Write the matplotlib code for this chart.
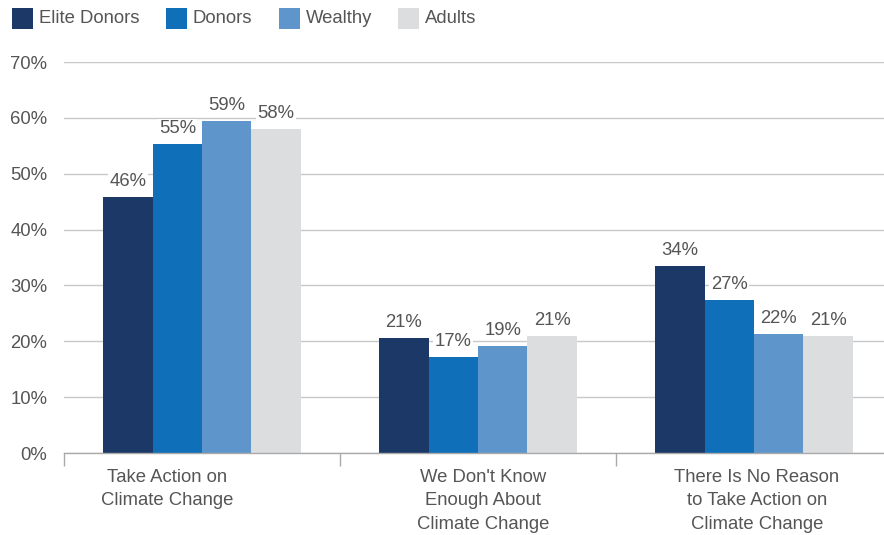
import matplotlib
matplotlib.use("Agg")
import matplotlib.pyplot as plt
from matplotlib.patches import Rectangle
import numpy as np

plt.rcParams['font.family'] = ['Liberation Sans', 'DejaVu Sans']

categories = ["Take Action on\nClimate Change",
              "We Don't Know\nEnough About\nClimate Change",
              "There Is No Reason\nto Take Action on\nClimate Change"]
series = ["Elite Donors", "Donors", "Wealthy", "Adults"]
values = {
    "Elite Donors": [45.8, 20.6, 33.5],
    "Donors":       [55.3, 17.2, 27.4],
    "Wealthy":      [59.4, 19.2, 21.3],
    "Adults":       [58.0, 20.9, 20.9],
}
labels = {
    "Elite Donors": [46, 21, 34],
    "Donors":       [55, 17, 27],
    "Wealthy":      [59, 19, 22],
    "Adults":       [58, 21, 21],
}
colors = ["#1B3866", "#0F6FB8", "#5E95CB", "#DCDDDF"]
yticks = [0, 10, 20, 30, 40, 50, 60, 70]

TXT = "#555555"
FS = 13.3
fig = plt.figure(figsize=(8.84, 5.35), dpi=100)
ax = fig.add_axes([64/884, (535-453)/535, 820/884, (453-62)/535])

x = np.arange(len(categories))
w = 0.179
for i, s in enumerate(series):
    xs = x + (i - 1.5) * w
    bars = ax.bar(xs, values[s], width=w, color=colors[i], zorder=3, linewidth=0)
    for b, lab in zip(bars, labels[s]):
        ax.annotate(f"{lab}%", (b.get_x() + b.get_width()/2, b.get_height()),
                    xytext=(0, 5), textcoords="offset points", ha="center", va="bottom",
                    fontsize=FS, color=TXT, zorder=4,
                    bbox=dict(facecolor="white", edgecolor="none", pad=1.0))

ax.set_xlim(-0.5, -0.5 + 820/276)
ax.set_ylim(0, 70)
ax.set_yticks(yticks)
ax.set_yticklabels([f"{t}%" for t in yticks], fontsize=FS, color=TXT)
ax.tick_params(axis='y', length=0, pad=12)
ax.yaxis.grid(True, color="#C8C8C8", linewidth=1.0, zorder=0)
for sp in ["top", "right", "left"]:
    ax.spines[sp].set_visible(False)
ax.spines["bottom"].set_color("#AAAAAA")
ax.spines["bottom"].set_linewidth(1.0)
ax.spines["bottom"].set_zorder(5)

ax.set_xticks([-0.5, 0.5, 1.5])
ax.set_xticklabels(["", "", ""])
ax.tick_params(axis='x', length=9, color="#AAAAAA", width=1.0, direction='out')

label_pos = [-0.127, 1.018, 2.01]
for lp, c in zip(label_pos, categories):
    ax.text(lp, -0.04, c, transform=ax.get_xaxis_transform(), ha="center", va="top",
            fontsize=FS, color=TXT, linespacing=1.5)

# legend
lx = [12, 166, 279, 398]
for i, s in enumerate(series):
    fig.patches.append(Rectangle((lx[i]/884, 1 - 29/535), 21/884, 21/535,
                                 transform=fig.transFigure, facecolor=colors[i],
                                 edgecolor="none"))
    fig.text((lx[i] + 27)/884, 1 - 18.5/535, s, ha="left", va="center",
             fontsize=FS, color=TXT)

fig.savefig("out.png", dpi=100)
